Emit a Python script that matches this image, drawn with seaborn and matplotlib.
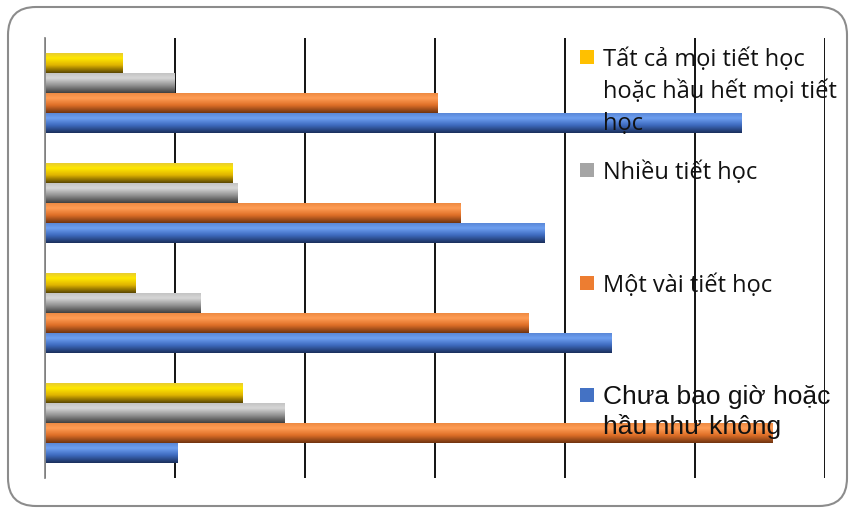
import numpy as np
import pandas as pd
import seaborn as sns
import matplotlib.pyplot as plt
from matplotlib.colors import LinearSegmentedColormap
from matplotlib.patches import FancyBboxPatch, Rectangle
import matplotlib.transforms as mtransforms

# data (percent), groups from top to bottom
groups = ["G1", "G2", "G3", "G4"]
series = ["Tất cả mọi tiết học\nhoặc hầu hết mọi tiết\nhọc",
          "Nhiều tiết học",
          "Một vài tiết học",
          "Chưa bao giờ hoặc\nhầu như không"]
all_most = [3.0, 7.2, 3.5, 7.6]
many = [5.0, 7.4, 6.0, 9.2]
some = [15.1, 16.0, 18.6, 28.0]
never = [26.8, 19.2, 21.8, 5.1]
colors = ["#FFC000", "#A5A5A5", "#ED7D31", "#4472C4"]
# gradient stops top -> bottom for the 3D look
shades = [["#e8cc30", "#ffe800", "#e0b400", "#5a4600"],
          ["#c4c4c4", "#d6d6d6", "#959595", "#404040"],
          ["#ee8a42", "#ff9d55", "#e07028", "#703410"],
          ["#5a88d8", "#6e9ff0", "#3f6cc0", "#1a2f5c"]]

df = pd.DataFrame({"group": groups * 4,
                   "series": np.repeat(series, 4),
                   "value": all_most + many + some + never})

sns.set_style("white")
fig = plt.figure(figsize=(8.5, 5.08), dpi=100)
ax = fig.add_axes([45 / 850, 30 / 508, 780 / 850, 440 / 508])

sns.barplot(data=df, x="value", y="group", hue="series", hue_order=series,
            order=groups, palette=colors, saturation=1, width=0.727,
            orient="h", legend=False, ax=ax)

xlim = (0, 30)
ylim = ax.get_ylim()
grad = np.linspace(0, 1, 64).reshape(-1, 1)
for cont, stops in zip(ax.containers, shades):
    cmap = LinearSegmentedColormap.from_list("g", list(zip([0, 0.25, 0.6, 1], stops)))
    for bar in cont:
        x0, y0 = bar.get_x(), bar.get_y()
        w, h = bar.get_width(), bar.get_height()
        ax.imshow(grad, cmap=cmap, aspect="auto", origin="upper",
                  extent=(x0, x0 + w, y0 + h, y0), zorder=bar.get_zorder())
        bar.set_alpha(0)
ax.set_xlim(xlim)
ax.set_ylim(ylim)

ax.set_xticks(np.arange(0, 31, 5))
ax.xaxis.grid(True, color="black", lw=1.3)
ax.set_axisbelow(True)
ax.tick_params(length=0, labelbottom=False, labelleft=False)
ax.set_xlabel("")
ax.set_ylabel("")
for s in ["top", "right", "bottom"]:
    ax.spines[s].set_visible(False)
ax.spines["left"].set_color("#8c8c8c")
ax.spines["left"].set_linewidth(1.3)
ax.spines["left"].set_zorder(5)

# legend drawn by hand so markers sit on the first line
px = mtransforms.IdentityTransform()
leg_y = [57, 170, 283, 395]
fonts = ["Open Sans", "Open Sans", "Open Sans", "Liberation Sans"]
sizes = [17, 17, 17, 19]
spacing = [1.42, 1.42, 1.42, 1.25]
for lab, col, yy, fam, fs, ls in zip(series, colors, leg_y, fonts, sizes, spacing):
    fig.patches.append(Rectangle((580, 508 - yy - 7), 14, 14, transform=px,
                                 facecolor=col, edgecolor="none", zorder=10))
    fig.text(603 / 850, (508 - yy + fs * 0.62 - 2) / 508, lab, family=fam, fontsize=fs,
             color="#111111", va="top", ha="left", linespacing=ls, zorder=11)

fig.patches.append(FancyBboxPatch((8, 2), 839, 499, transform=px,
                                  boxstyle="round,pad=0,rounding_size=28",
                                  facecolor="none", edgecolor="#8c8c8c", lw=1.5))

fig.savefig("out.png", dpi=100)
